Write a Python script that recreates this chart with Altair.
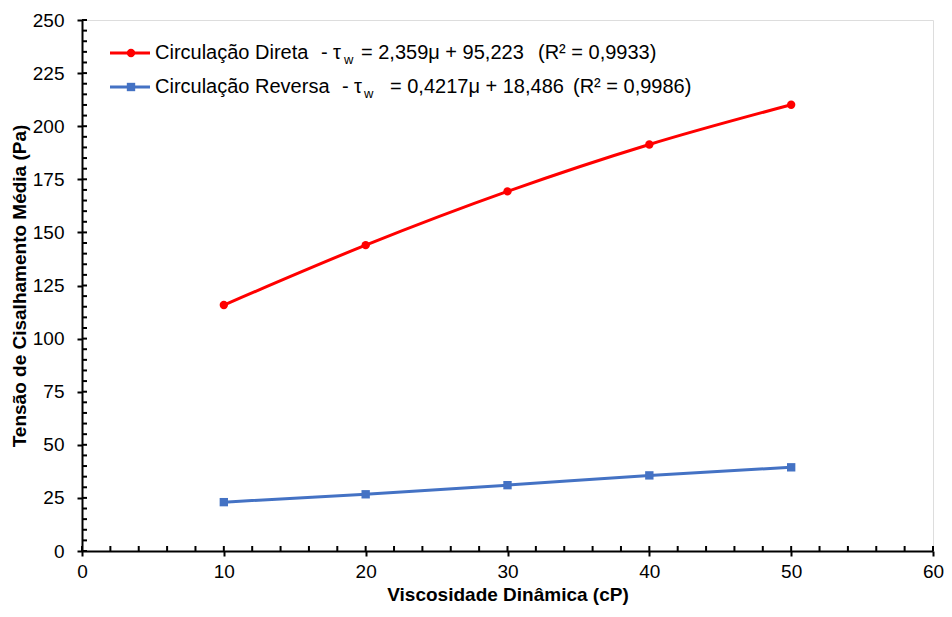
import altair as alt
import pandas as pd

# ---- data ----
viscosidade = [10, 20, 30, 40, 50]
direta = [115.8, 144.0, 169.3, 191.4, 210.1]
reversa = [23.0, 26.7, 31.0, 35.6, 39.4]
series_names = ["Circulação Direta", "Circulação Reversa"]
series_colors = ["#FF0000", "#4472C4"]
series_shapes = ["circle", "square"]

x_ticks = [0, 10, 20, 30, 40, 50, 60]
y_ticks = [0, 25, 50, 75, 100, 125, 150, 175, 200, 225, 250]
x_minor = list(range(0, 61, 2))
y_minor = list(range(0, 251, 5))

legend_line1 = ["Circulação Direta", "-", "τ", "w", "= 2,359μ + 95,223", "(R² = 0,9933)"]
legend_line2 = ["Circulação Reversa", "-", "τ", "w", "= 0,4217μ + 18,486", "(R² = 0,9986)"]

x_title = "Viscosidade Dinâmica (cP)"
y_title = "Tensão de Cisalhamento Média (Pa)"

FONT = "Liberation Sans"
PAD_L, PAD_T, PAD_R, PAD_B = 74, 12, 11, 58
W, H = 851, 531
OX, OY = 8 + PAD_L, 8 + PAD_T

df = pd.DataFrame({
    "mu": viscosidade * 2,
    "tau": direta + reversa,
    "serie": [series_names[0]] * len(viscosidade) + [series_names[1]] * len(viscosidade),
})

xs = alt.Scale(domain=[0, 60], nice=False, zero=False)
ys = alt.Scale(domain=[0, 250], nice=False, zero=False)
cs = alt.Scale(domain=series_names, range=series_colors)
ss = alt.Scale(domain=series_names, range=series_shapes)

x_enc = alt.X("mu:Q", scale=xs, axis=alt.Axis(
    values=x_ticks, title=x_title, grid=False, tickSize=5, tickWidth=2, tickColor="black",
    domainWidth=2, domainColor="black", labelFont=FONT, labelFontSize=19, labelColor="black",
    labelPadding=6, titleFont=FONT, titleFontSize=19, titleFontWeight="bold", titleColor="black",
    titlePadding=4, labelFlush=False))
y_enc = alt.Y("tau:Q", scale=ys, axis=alt.Axis(
    values=y_ticks, title=y_title, grid=False, tickSize=5, tickWidth=2, tickColor="black",
    domainWidth=2, domainColor="black", labelFont=FONT, labelFontSize=19, labelColor="black",
    labelPadding=13, titleFont=FONT, titleFontSize=19, titleFontWeight="bold", titleColor="black",
    titlePadding=3, labelFlush=False))

lines = alt.Chart(df).mark_line(strokeWidth=3, interpolate="monotone").encode(
    x=x_enc, y=y_enc, color=alt.Color("serie:N", scale=cs, legend=None), detail="serie:N")
points = alt.Chart(df).mark_point(filled=True, size=70, opacity=1).encode(
    x=alt.X("mu:Q", scale=xs), y=alt.Y("tau:Q", scale=ys),
    color=alt.Color("serie:N", scale=cs, legend=None),
    shape=alt.Shape("serie:N", scale=ss, legend=None))

# inside minor ticks
ymin_df = pd.DataFrame({"v": y_minor})
xmin_df = pd.DataFrame({"v": x_minor})
y_in = alt.Chart(ymin_df).mark_rule(color="black", strokeWidth=2).encode(
    y=alt.Y("v:Q", scale=ys), x=alt.value(0), x2=alt.value(5))
x_in = alt.Chart(xmin_df).mark_rule(color="black", strokeWidth=2).encode(
    x=alt.X("v:Q", scale=xs), y=alt.value(H), y2=alt.value(H - 5))

# manual legend
layers = [lines, points, y_in, x_in]
rows = [
    (legend_line1, 53, series_colors[0], series_shapes[0], [155, 321, 333, 344, 361, 538]),
    (legend_line2, 87, series_colors[1], series_shapes[1], [155, 342, 354, 364, 390, 573]),
]
one = pd.DataFrame({"k": [0]})
for texts, yy, col, shp, xpos in rows:
    layers.append(alt.Chart(one).mark_rule(color=col, strokeWidth=3).encode(
        x=alt.value(110 - OX), x2=alt.value(150 - OX), y=alt.value(yy - OY)))
    layers.append(alt.Chart(one).mark_point(filled=True, size=70, opacity=1, color=col, shape=shp).encode(
        x=alt.value(131 - OX), y=alt.value(yy - OY)))
    for t, xp in zip(texts, xpos):
        sub = (t == "w")
        layers.append(alt.Chart(pd.DataFrame({"t": [t]})).mark_text(
            align="left", baseline="middle", font=FONT, fontSize=13 if sub else 20, color="black").encode(
            x=alt.value(xp - OX), y=alt.value(yy - OY + (7 if sub else 0)), text="t:N"))

chart = alt.layer(*layers).properties(
    width=W, height=H,
    autosize=alt.AutoSizeParams(type="none"),
    padding={"left": PAD_L, "top": PAD_T, "right": PAD_R, "bottom": PAD_B},
).configure_view(stroke="black", strokeWidth=2).configure(background="white")

chart.save("out.html", embed_options={"renderer": "svg", "actions": False})
